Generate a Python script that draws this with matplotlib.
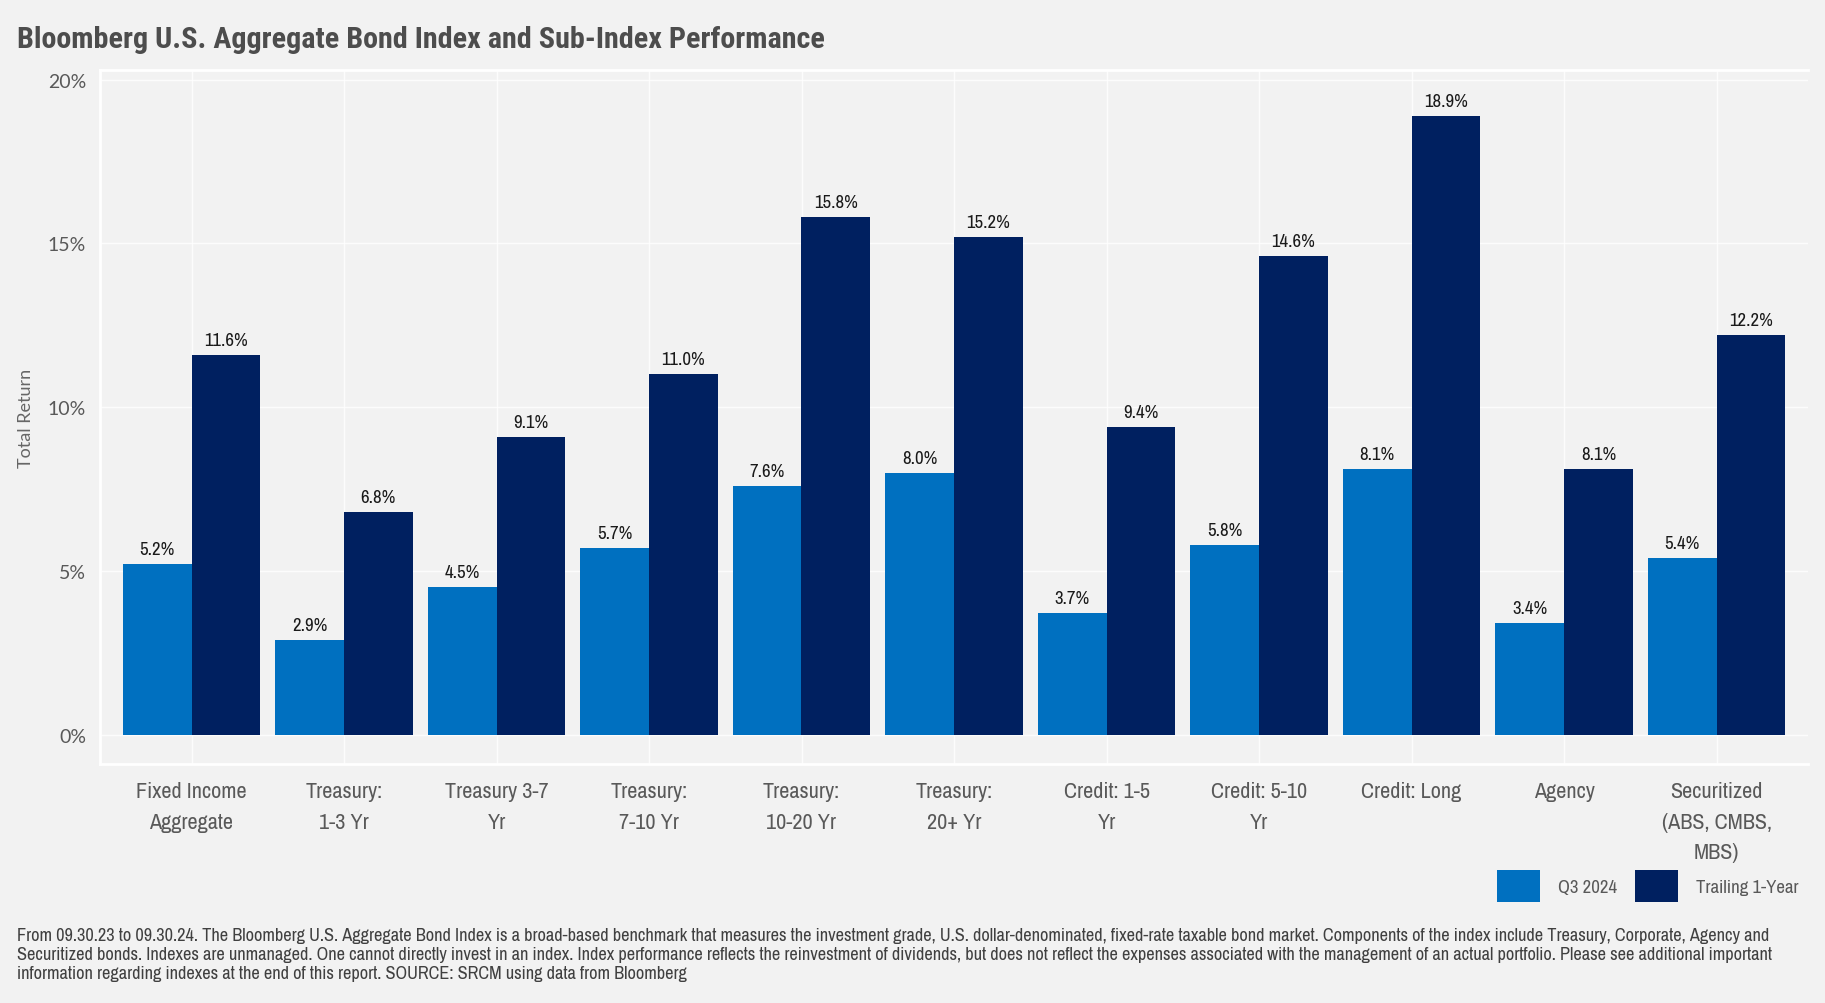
import matplotlib
matplotlib.use("Agg")
import matplotlib.pyplot as plt
import numpy as np

# Données
categories = [
    "Fixed Income\nAggregate", "Treasury:\n1-3 Yr", "Treasury 3-7\nYr", "Treasury:\n7-10 Yr",
    "Treasury:\n10-20 Yr", "Treasury:\n20+ Yr", "Credit: 1-5\nYr", "Credit: 5-10\nYr",
    "Credit: Long", "Agency", "Securitized\n(ABS, CMBS,\nMBS)",
]
q3_2024 = [5.2, 2.9, 4.5, 5.7, 7.6, 8.0, 3.7, 5.8, 8.1, 3.4, 5.4]
trailing_1y = [11.6, 6.8, 9.1, 11.0, 15.8, 15.2, 9.4, 14.6, 18.9, 8.1, 12.2]
y_ticks = [0, 5, 10, 15, 20]
series_names = ["Q3 2024", "Trailing 1-Year"]

title = "Bloomberg U.S. Aggregate Bond Index and Sub-Index Performance"
footnote = ("From 09.30.23 to 09.30.24. The Bloomberg U.S. Aggregate Bond Index is a broad-based benchmark that measures the investment grade, U.S. dollar-denominated, fixed-rate taxable bond market. Components of the index include Treasury, Corporate, Agency and\n"
            "Securitized bonds. Indexes are unmanaged. One cannot directly invest in an index. Index performance reflects the reinvestment of dividends, but does not reflect the expenses associated with the management of an actual portfolio. Please see additional important\n"
            "information regarding indexes at the end of this report. SOURCE: SRCM using data from Bloomberg")

NARROW = ["Archivo Narrow", "DejaVu Sans"]
TITLE_FONT = ["Roboto Condensed", "DejaVu Sans"]
BG = "#f2f2f2"
C_Q3 = "#0070c0"
C_TR = "#002060"

fig = plt.figure(figsize=(18.25, 10.04), dpi=100, facecolor=BG)
ax = fig.add_axes([100 / 1825, 1 - 765 / 1004, (1808 - 100) / 1825, (765 - 70.7) / 1004])
ax.set_facecolor(BG)

x = np.arange(len(categories))
w = 0.45
b1 = ax.bar(x - w / 2, q3_2024, w, color=C_Q3, label=series_names[0], zorder=3)
b2 = ax.bar(x + w / 2, trailing_1y, w, color=C_TR, label=series_names[1], zorder=3)

for bars, vals in ((b1, q3_2024), (b2, trailing_1y)):
    for r, v in zip(bars, vals):
        ax.annotate(f"{v:.1f}%", (r.get_x() + r.get_width() / 2, r.get_height()),
                    xytext=(0, 5), textcoords="offset points", ha="center", va="bottom",
                    fontsize=13.5, family=NARROW, color="#1a1a1a")

ax.set_xlim(-0.6, len(categories) - 0.4)
ax.set_ylim(-0.9, 20.3)
ax.set_yticks(y_ticks)
ax.set_yticklabels([f"{t}%" for t in y_ticks], family="Lato", fontsize=14, color="#595959")
ax.set_xticks(x)
ax.set_xticklabels(categories, family=NARROW, fontsize=16, color="#595959", linespacing=1.68, va="top")
ax.tick_params(axis="both", length=0)
ax.tick_params(axis="y", pad=10)
ax.tick_params(axis="x", pad=12)
ax.grid(True, color="white", linewidth=1, alpha=0.8, zorder=0)
for s in ["top", "bottom", "left"]:
    ax.spines[s].set_color("white")
    ax.spines[s].set_linewidth(2)
ax.spines["right"].set_visible(False)

fig.text(26 / 1825, 1 - 418 / 1004, "Total Return", rotation=90, ha="center", va="center",
         family="Lato", fontsize=13, color="#666666")

fig.text(17 / 1825, 1 - 40 / 1004, title, ha="left", va="center", family=TITLE_FONT,
         fontsize=21.7, fontweight="bold", color="#4d4d4d")

fig.legend(handles=[b1, b2], labels=series_names, loc="center right",
           bbox_to_anchor=(1808 / 1825, 1 - 887 / 1004), ncol=2, frameon=False,
           prop={"family": NARROW, "size": 13.5}, labelcolor="#595959",
           handlelength=2.3, handleheight=2.3, handletextpad=0.95, columnspacing=0.95, borderpad=0)

fig.text(17 / 1825, 1 - 928 / 1004, footnote, ha="left", va="top", family=NARROW,
         fontsize=13.2, color="#404040", linespacing=1.22)

fig.savefig("out.png", dpi=100, facecolor=BG)
